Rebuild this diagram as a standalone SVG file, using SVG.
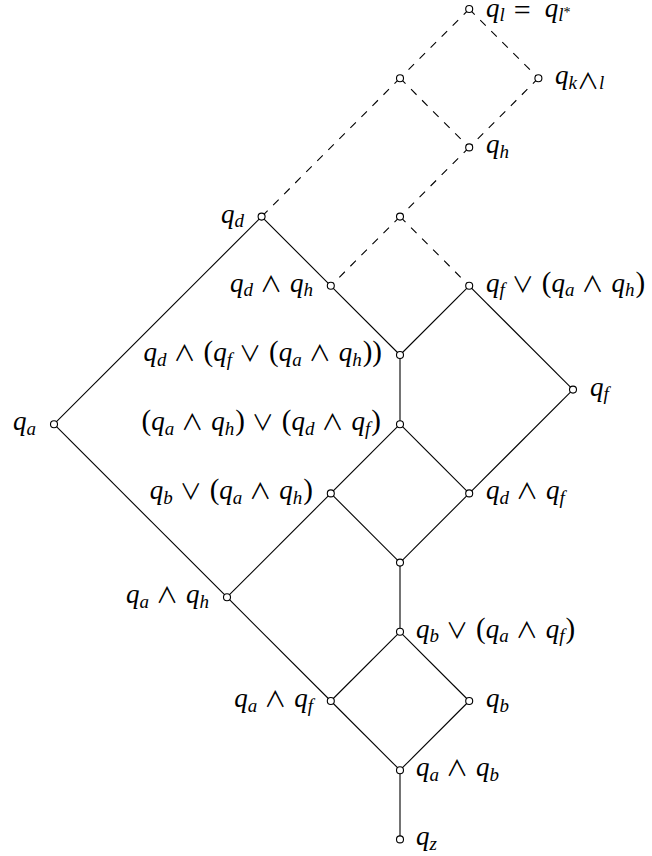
<svg xmlns="http://www.w3.org/2000/svg" width="652" height="856" viewBox="0 0 652 856">
<style>
text { font-family: "Liberation Serif", "Times New Roman", serif; font-size: 27px; font-style: italic; fill: #000; }
.s { font-size: 19px; }
.o { font-style: normal; }
.p { font-style: normal; font-size: 29px; }
.m { font-style: normal; font-size: 22px; font-family: "Noto Sans CJK JP", "DejaVu Sans", sans-serif; }
.e line { stroke: #000; stroke-width: 1.1; fill: none; }
.e .d { stroke-dasharray: 7.8 7.8; }
circle { fill: #fff; stroke: #000; stroke-width: 1.1; }
.r { text-anchor: start; }
.l { text-anchor: end; }
</style>
<rect width="652" height="856" fill="#fff"/>
<g id="connectors" class="e">
  <line class="d" x1="469.2" y1="9" x2="400" y2="78.2"/>
  <line class="d" x1="469.2" y1="9" x2="538.4" y2="78.2"/>
  <line class="d" x1="400" y1="78.2" x2="261.6" y2="216.6"/>
  <line class="d" x1="400" y1="78.2" x2="469.2" y2="147.4"/>
  <line class="d" x1="538.4" y1="78.2" x2="469.2" y2="147.4"/>
  <line class="d" x1="469.2" y1="147.4" x2="400" y2="216.6"/>
  <line class="d" x1="400" y1="216.6" x2="330.8" y2="285.8"/>
  <line class="d" x1="400" y1="216.6" x2="469.2" y2="285.8"/>
  <line x1="261.6" y1="216.6" x2="54" y2="424.2"/>
  <line x1="261.6" y1="216.6" x2="330.8" y2="285.8"/>
  <line x1="330.8" y1="285.8" x2="400" y2="355"/>
  <line x1="469.2" y1="285.8" x2="400" y2="355"/>
  <line x1="469.2" y1="285.8" x2="573" y2="389.6"/>
  <line x1="573" y1="389.6" x2="469.2" y2="493.4"/>
  <line x1="400" y1="355" x2="400" y2="424.2"/>
  <line x1="400" y1="424.2" x2="330.8" y2="493.4"/>
  <line x1="400" y1="424.2" x2="469.2" y2="493.4"/>
  <line x1="330.8" y1="493.4" x2="400" y2="562.6"/>
  <line x1="469.2" y1="493.4" x2="400" y2="562.6"/>
  <line x1="54" y1="424.2" x2="227" y2="597.2"/>
  <line x1="227" y1="597.2" x2="330.8" y2="493.4"/>
  <line x1="227" y1="597.2" x2="330.8" y2="701"/>
  <line x1="400" y1="562.6" x2="400" y2="631.8"/>
  <line x1="400" y1="631.8" x2="330.8" y2="701"/>
  <line x1="400" y1="631.8" x2="469.2" y2="701"/>
  <line x1="330.8" y1="701" x2="400" y2="770.2"/>
  <line x1="469.2" y1="701" x2="400" y2="770.2"/>
  <line x1="400" y1="770.2" x2="400" y2="839.4"/>
</g>
<g id="n1"><circle cx="469.2" cy="9" r="3.5"/><text class="r" x="486" y="16.5">q<tspan class="s" dy="4.5">l</tspan><tspan class="o" dy="-1.5" dx="9" font-size="30">=</tspan><tspan dx="14" dy="-3">q</tspan><tspan class="s" dy="4.5">l</tspan><tspan class="o" dy="-4.5" font-size="14">*</tspan></text></g>
<g id="n2"><circle cx="400" cy="78.2" r="3.5"/></g>
<g id="n3"><circle cx="538.4" cy="78.2" r="3.5"/><text class="r" x="555" y="84.2">q<tspan class="s" dy="4.5">k</tspan><tspan class="s m" font-size="16">∧</tspan><tspan class="s">l</tspan></text></g>
<g id="n4"><circle cx="469.2" cy="147.4" r="3.5"/><text class="r" x="486" y="153.4">q<tspan class="s" dy="4.5">h</tspan></text></g>
<g id="n5"><circle cx="261.6" cy="216.6" r="3.5"/><text class="l" x="244" y="222.6">q<tspan class="s" dy="4.5">d</tspan></text></g>
<g id="n6"><circle cx="400" cy="216.6" r="3.5"/></g>
<g id="n7"><circle cx="330.8" cy="285.8" r="3.5"/><text class="l" x="313" y="291.8">q<tspan class="s" dy="4.5">d</tspan><tspan class="m" dy="-4.5" dx="7">∧</tspan><tspan dx="8">q</tspan><tspan class="s" dy="4.5">h</tspan></text></g>
<g id="n8"><circle cx="469.2" cy="285.8" r="3.5"/><text class="r" x="486" y="291.8">q<tspan class="s" dy="4.5">f</tspan><tspan class="m" dy="-4.5" dx="7">∨</tspan><tspan class="p" dx="8">(</tspan>q<tspan class="s" dy="4.5">a</tspan><tspan class="m" dy="-4.5" dx="7">∧</tspan><tspan dx="8">q</tspan><tspan class="s" dy="4.5">h</tspan><tspan class="p" dy="-4.5" dx="1">)</tspan></text></g>
<g id="n9"><circle cx="400" cy="355" r="3.5"/><text class="l" x="382" y="361">q<tspan class="s" dy="4.5">d</tspan><tspan class="m" dy="-4.5" dx="7">∧</tspan><tspan class="p" dx="8">(</tspan>q<tspan class="s" dy="4.5">f</tspan><tspan class="m" dy="-4.5" dx="7">∨</tspan><tspan class="p" dx="8">(</tspan>q<tspan class="s" dy="4.5">a</tspan><tspan class="m" dy="-4.5" dx="7">∧</tspan><tspan dx="8">q</tspan><tspan class="s" dy="4.5">h</tspan><tspan class="p" dy="-4.5" dx="1">))</tspan></text></g>
<g id="n10"><circle cx="573" cy="389.6" r="3.5"/><text class="r" x="590" y="395.6">q<tspan class="s" dy="4.5">f</tspan></text></g>
<g id="n11"><circle cx="54" cy="424.2" r="3.5"/><text class="l" x="36" y="430.2">q<tspan class="s" dy="4.5">a</tspan></text></g>
<g id="n12"><circle cx="400" cy="424.2" r="3.5"/><text class="l" x="381" y="430.2"><tspan class="p">(</tspan>q<tspan class="s" dy="4.5">a</tspan><tspan class="m" dy="-4.5" dx="7">∧</tspan><tspan dx="8">q</tspan><tspan class="s" dy="4.5">h</tspan><tspan class="p" dy="-4.5" dx="1">)</tspan><tspan class="m" dx="7">∨</tspan><tspan class="p" dx="8">(</tspan>q<tspan class="s" dy="4.5">d</tspan><tspan class="m" dy="-4.5" dx="7">∧</tspan><tspan dx="8">q</tspan><tspan class="s" dy="4.5">f</tspan><tspan class="p" dy="-4.5" dx="1">)</tspan></text></g>
<g id="n13"><circle cx="330.8" cy="493.4" r="3.5"/><text class="l" x="313" y="499.4">q<tspan class="s" dy="4.5">b</tspan><tspan class="m" dy="-4.5" dx="7">∨</tspan><tspan class="p" dx="8">(</tspan>q<tspan class="s" dy="4.5">a</tspan><tspan class="m" dy="-4.5" dx="7">∧</tspan><tspan dx="8">q</tspan><tspan class="s" dy="4.5">h</tspan><tspan class="p" dy="-4.5" dx="1">)</tspan></text></g>
<g id="n14"><circle cx="469.2" cy="493.4" r="3.5"/><text class="r" x="486" y="499.4">q<tspan class="s" dy="4.5">d</tspan><tspan class="m" dy="-4.5" dx="7">∧</tspan><tspan dx="8">q</tspan><tspan class="s" dy="4.5">f</tspan></text></g>
<g id="n15"><circle cx="400" cy="562.6" r="3.5"/></g>
<g id="n16"><circle cx="227" cy="597.2" r="3.5"/><text class="l" x="209" y="603.2">q<tspan class="s" dy="4.5">a</tspan><tspan class="m" dy="-4.5" dx="7">∧</tspan><tspan dx="8">q</tspan><tspan class="s" dy="4.5">h</tspan></text></g>
<g id="n17"><circle cx="400" cy="631.8" r="3.5"/><text class="r" x="416" y="637.8">q<tspan class="s" dy="4.5">b</tspan><tspan class="m" dy="-4.5" dx="7">∨</tspan><tspan class="p" dx="8">(</tspan>q<tspan class="s" dy="4.5">a</tspan><tspan class="m" dy="-4.5" dx="7">∧</tspan><tspan dx="8">q</tspan><tspan class="s" dy="4.5">f</tspan><tspan class="p" dy="-4.5" dx="1">)</tspan></text></g>
<g id="n18"><circle cx="330.8" cy="701" r="3.5"/><text class="l" x="313" y="707">q<tspan class="s" dy="4.5">a</tspan><tspan class="m" dy="-4.5" dx="7">∧</tspan><tspan dx="8">q</tspan><tspan class="s" dy="4.5">f</tspan></text></g>
<g id="n19"><circle cx="469.2" cy="701" r="3.5"/><text class="r" x="486" y="707">q<tspan class="s" dy="4.5">b</tspan></text></g>
<g id="n20"><circle cx="400" cy="770.2" r="3.5"/><text class="r" x="416" y="776.2">q<tspan class="s" dy="4.5">a</tspan><tspan class="m" dy="-4.5" dx="7">∧</tspan><tspan dx="8">q</tspan><tspan class="s" dy="4.5">b</tspan></text></g>
<g id="n21"><circle cx="400" cy="839.4" r="3.5"/><text class="r" x="416" y="845.4">q<tspan class="s" dy="4.5">z</tspan></text></g>
</svg>
